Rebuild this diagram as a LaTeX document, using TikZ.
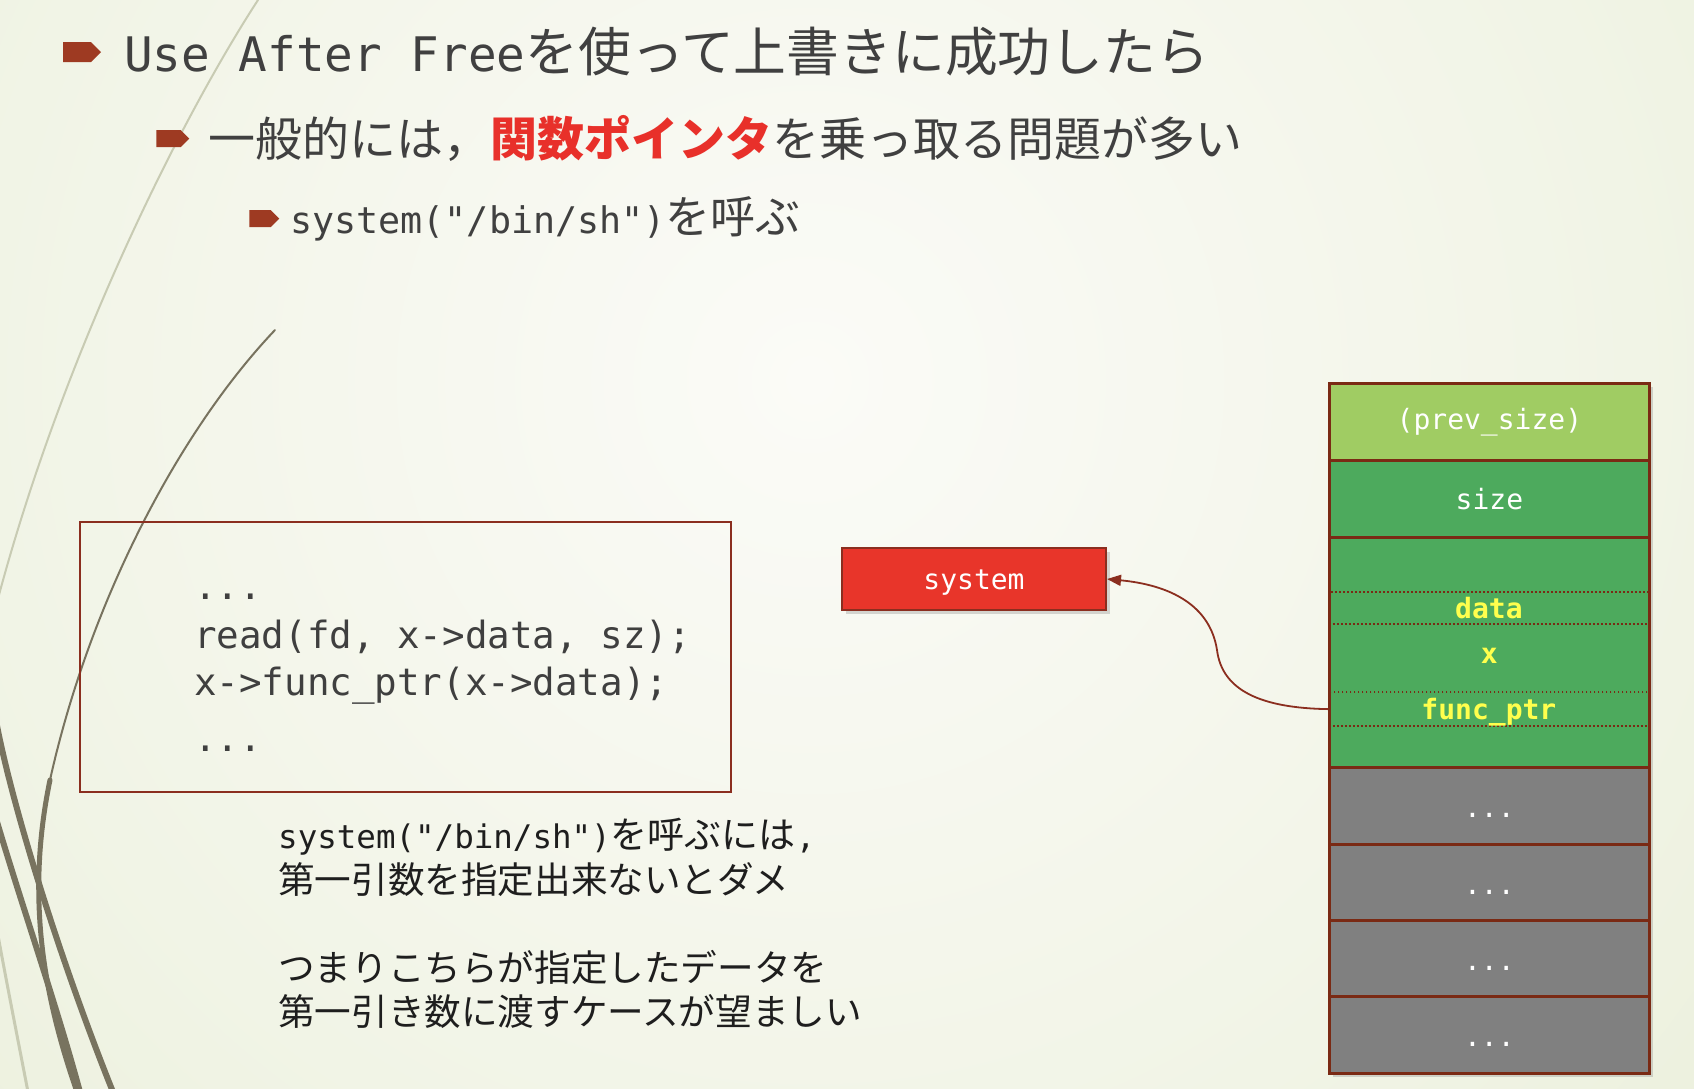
\documentclass[tikz,border=0pt]{standalone}
\usepackage{fontspec}
\usetikzlibrary{shapes.symbols,shadows,arrows.meta}
\newfontfamily\jp{Noto Sans CJK JP}
\newfontfamily\mono{DejaVu Sans Mono}
\definecolor{bgin}{HTML}{FBFBF7}
\definecolor{bgmid}{HTML}{F1F4E6}
\definecolor{bgout}{HTML}{DCE5C2}
\definecolor{titlegray}{HTML}{404040}
\definecolor{bul}{HTML}{9E3A22}
\definecolor{hl}{HTML}{E8302A}
\definecolor{boxred}{HTML}{8B2E1F}
\definecolor{stkred}{HTML}{7A2A14}
\definecolor{sysred}{HTML}{E8352A}
\definecolor{lgreen}{HTML}{A0CC63}
\definecolor{dgreen}{HTML}{4DAA5D}
\definecolor{cellgray}{HTML}{808080}
\definecolor{yel}{HTML}{FFFF4D}
\definecolor{dec}{HTML}{78735F}
\definecolor{declight}{HTML}{C8CBB3}
\definecolor{codegray}{HTML}{3F3F3F}
\definecolor{bodytext}{HTML}{1E1E1E}
\pgfdeclareradialshading{bgshade}{\pgfpoint{0bp}{0bp}}{color(0bp)=(bgin); color(18bp)=(bgmid); color(50bp)=(bgout)}
\tikzset{
  bulletshape/.style={shape=signal, signal to=east, fill=bul, draw=none, inner sep=0pt},
  txt/.style={inner sep=0pt, anchor=west},
  codeline/.style={inner sep=0pt, anchor=west, text=codegray, font=\mono\fontsize{37.5}{42}\selectfont},
  cell/.style={draw=stkred, line width=2.8pt, minimum width=320pt, inner sep=0pt, anchor=north west, text=white, font=\mono\fontsize{28}{32}\selectfont},
  dotcell/.style={draw=stkred, line width=1.8pt, dash pattern=on 1.8pt off 2.2pt, minimum width=320pt, inner sep=0pt, anchor=north west, text=yel, font=\mono\bfseries\fontsize{28}{32}\selectfont},
  deco/.style={draw=dec, line cap=round},
  decolight/.style={draw=declight, line cap=round},
  ptrarrow/.style={draw=boxred, line width=1.8pt, -{Triangle[length=14pt,width=11pt]}}
}
\begin{document}
\begin{tikzpicture}[x=1pt,y=-1pt]
\useasboundingbox (0,0) rectangle (1694,1088);
\begin{scope}
\clip (0,0) rectangle (1694,1088);
\fill[bgout] (0,0) rectangle (1694,1088);
\shade[shading=bgshade] (810,380) circle (1150);
% decorative wisps
\draw[decolight, line width=2pt] (258,0) .. controls (180,120) and (60,360) .. (-5,610);
\draw[decolight, line width=3pt] (-3,930) .. controls (8,990) and (18,1040) .. (28,1092);
\draw[deco, line width=2pt] (275,330) .. controls (180,430) and (90,600) .. (50,780);
\draw[deco, line width=5pt] (50,780) .. controls (25,900) and (45,1000) .. (77,1092);
\draw[deco, line width=6pt] (-5,715) .. controls (10,800) and (60,960) .. (113,1092);
\draw[deco, line width=6pt] (-5,815) .. controls (20,900) and (55,1000) .. (80,1092);
\end{scope}

% title bullets
\node[bulletshape, minimum width=38pt, minimum height=20pt] (b1) at (77,52) {};
\node[bulletshape, minimum width=33pt, minimum height=17pt] (b2) at (168.5,138.5) {};
\node[bulletshape, minimum width=30pt, minimum height=17pt] (b3) at (260,218.5) {};

\node[txt, text=titlegray] (t1) at (124,52) {\mono\fontsize{47.6}{52}\selectfont Use After Free\jp\fontsize{52.8}{56}\selectfont を使って上書きに成功したら};
\node[txt, text=titlegray] (t2) at (208,138) {\jp\fontsize{47}{50}\selectfont 一般的には，{\bfseries\color{hl}関数ポインタ}を乗っ取る問題が多い};
\node[txt, text=titlegray] (t3) at (290,219) {\mono\fontsize{36.7}{40}\selectfont system("/bin/sh")\jp\fontsize{45}{48}\selectfont を呼ぶ};

% code box
\node[draw=boxred, line width=2.5pt, minimum width=651pt, minimum height=270pt, inner sep=0pt] (code) at (405.5,657) {};
\node[codeline] (c1) at (194,597) {...};
\node[codeline] (c2) at (194,637) {read(fd, x->data, sz);};
\node[codeline] (c3) at (194,686) {x->func\_ptr(x->data);};
\node[codeline] (c4) at (194,749) {...};

% explanation text
\node[txt, text=bodytext] (e1) at (278,837) {\mono\fontsize{32.5}{36}\selectfont system("/bin/sh")\jp\fontsize{37}{40}\selectfont を呼ぶには\mono\fontsize{32.5}{36}\selectfont,};
\node[txt, text=bodytext] (e2) at (278,880) {\jp\fontsize{36.6}{40}\selectfont 第一引数を指定出来ないとダメ};
\node[txt, text=bodytext] (e3) at (278,967) {\jp\fontsize{36.6}{40}\selectfont つまりこちらが指定したデータを};
\node[txt, text=bodytext] (e4) at (278,1012) {\jp\fontsize{36.6}{40}\selectfont 第一引き数に渡すケースが望ましい};

% system box
\node[fill=sysred, draw=boxred, line width=2pt, minimum width=264pt, minimum height=62pt, inner sep=0pt, text=white, font=\mono\fontsize{28}{32}\selectfont, text height=27pt, text depth=6.4pt, drop shadow={shadow xshift=4pt, shadow yshift=-4pt, opacity=0.3}] (sys) at (974,579) {system};

% memory stack
\node[fill=cellgray, minimum width=320pt, minimum height=690pt, inner sep=0pt, anchor=north west, drop shadow={shadow xshift=5pt, shadow yshift=-5pt, opacity=0.3}] (stk) at (1328,382) {};
\node[cell, fill=lgreen, minimum height=77pt] (r1) at (1328,382) {(prev\_size)};
\node[cell, fill=dgreen, minimum height=77pt] (r2) at (1328,459) {size};
\node[cell, fill=dgreen, minimum height=230pt, text=yel, font=\mono\bfseries\fontsize{28}{32}\selectfont, text height=22pt, text depth=0pt] (r3) at (1328,536) {x};
\node[cell, fill=cellgray, minimum height=77pt, text height=24pt, text depth=0pt] (g1) at (1328,766) {...};
\node[cell, fill=cellgray, minimum height=76pt, text height=24pt, text depth=0pt] (g2) at (1328,843) {...};
\node[cell, fill=cellgray, minimum height=76pt, text height=24pt, text depth=0pt] (g3) at (1328,919) {...};
\node[cell, fill=cellgray, minimum height=77pt, text height=24pt, text depth=0pt] (g4) at (1328,995) {...};
\node[dotcell, minimum height=32pt] (d1) at (1328,591) {data};
\node[dotcell, minimum height=33pt, text height=28pt, text depth=6.4pt] (d2) at (1328,691) {func\_ptr};

% pointer arrow
\draw[ptrarrow] (d2.west) .. controls (1260,708) and (1222,690) .. (1217,650) .. controls (1210,605) and (1170,585) .. (sys.east);
\end{tikzpicture}
\end{document}
